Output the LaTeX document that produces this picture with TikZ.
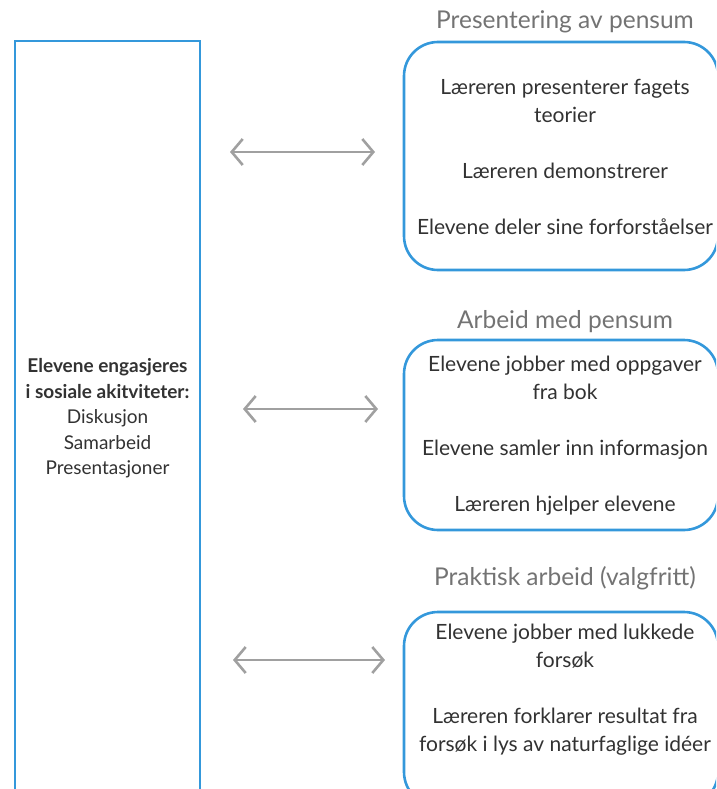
\documentclass[tikz,border=0pt]{standalone}
\usepackage{fontspec}
\setmainfont{Lato}
\usetikzlibrary{arrows.meta}

\definecolor{boxblue}{RGB}{52,152,219}
\definecolor{arrowgray}{RGB}{160,160,160}
\definecolor{titlegray}{RGB}{115,115,115}
\definecolor{textgray}{RGB}{50,50,50}

\tikzset{
  sidebox/.style={draw=boxblue, line width=2.6pt, minimum width=185pt,
    minimum height=755pt, align=center, text=textgray,
    font=\fontsize{19}{25.5}\selectfont},
  stagebox/.style={draw=boxblue, line width=2.6pt, rounded corners=34pt,
    minimum width=314pt},
  stagetitle/.style={text=titlegray, font=\fontsize{24.5}{28}\selectfont},
  items/.style={align=center, text=textgray, font=\fontsize{21}{28}\selectfont},
  link/.style={arrowgray, line width=2.6pt,
    {Straight Barb[length=11pt,width=26pt]}-{Straight Barb[length=11pt,width=26pt]}}
}

\begin{document}
\begin{tikzpicture}[x=1pt, y=-1pt]
  \clip (0,0) rectangle (716,789);

  % left column
  \node[sidebox] (elev) at (107.5,418.5)
    {\textbf{Elevene engasjeres}\\\textbf{i sosiale akitviteter:}\\Diskusjon\\Samarbeid\\Presentasjoner};

  % the three stages
  \node[stagebox, minimum height=228pt] (pres) at (561,156) {};
  \node[stagetitle] (presT) at (565,22) {Presentering av pensum};
  \node[items] (presI) at (565,157)
    {Læreren presenterer fagets\\teorier\\[28pt]Læreren demonstrerer\\[28pt]Elevene deler sine forforståelser};

  \node[stagebox, minimum height=190pt] (arb) at (561,435) {};
  \node[stagetitle] (arbT) at (565,322) {Arbeid med pensum};
  \node[items] (arbI) at (565,435.5)
    {Elevene jobber med oppgaver\\fra bok\\[28pt]Elevene samler inn informasjon\\[28pt]Læreren hjelper elevene};

  \node[stagebox, minimum height=194pt] (prak) at (561,709) {};
  \node[stagetitle] (prakT) at (565,578) {Praktisk arbeid (valgfritt)};
  \node[items] (prakI) at (565,690)
    {Elevene jobber med lukkede\\forsøk\\[28pt]Læreren forklarer resultat fra\\forsøk i lys av naturfaglige idéer};

  % arrows between column and stages
  \coordinate (p1a) at (230,152);
  \coordinate (p1b) at (375,152);
  \coordinate (p2a) at (243,409);
  \coordinate (p2b) at (378,409);
  \coordinate (p3a) at (233,660);
  \coordinate (p3b) at (385,660);
  \draw[link] (p1a) -- (p1b);
  \draw[link] (p2a) -- (p2b);
  \draw[link] (p3a) -- (p3b);
\end{tikzpicture}
\end{document}
